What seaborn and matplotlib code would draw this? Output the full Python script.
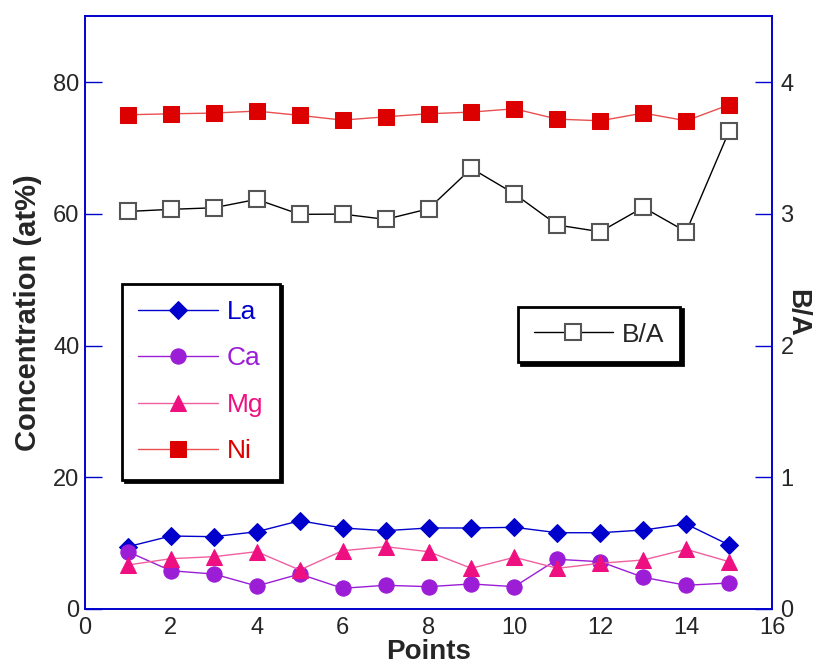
import matplotlib
matplotlib.use("Agg")
import matplotlib.pyplot as plt
import seaborn as sns
import pandas as pd
from matplotlib import font_manager

points = list(range(1, 16))
la = [9.46, 11.08, 10.98, 11.73, 13.40, 12.30, 11.89, 12.30, 12.30, 12.40, 11.58, 11.58, 11.99, 12.90, 9.72]
ca = [8.70, 5.81, 5.31, 3.49, 5.31, 3.14, 3.60, 3.39, 3.80, 3.39, 7.54, 7.18, 4.81, 3.60, 3.95]
mg = [6.68, 7.64, 7.94, 8.70, 5.92, 8.85, 9.46, 8.70, 6.18, 7.85, 6.18, 6.94, 7.44, 9.06, 7.18]
ni = [75.04, 75.19, 75.30, 75.60, 74.95, 74.23, 74.73, 75.19, 75.45, 75.95, 74.38, 74.13, 75.30, 74.13, 76.55]
ba = [3.018, 3.034, 3.046, 3.110, 2.996, 2.998, 2.958, 3.038, 3.345, 3.152, 2.915, 2.864, 3.049, 2.864, 3.628]

x_ticks = [0, 2, 4, 6, 8, 10, 12, 14, 16]
left_ticks = [0, 20, 40, 60, 80]
right_ticks = [0, 1, 2, 3, 4]

sns.set_style("white")
names = {f.name for f in font_manager.fontManager.ttflist}
fam = ["Liberation Sans Narrow", "Liberation Sans", "DejaVu Sans"]
plt.rcParams["font.family"] = [f for f in fam if f in names] + ["DejaVu Sans"]

df = pd.DataFrame({"Points": points, "La": la, "Ca": ca, "Mg": mg, "Ni": ni, "BA": ba})

fig = plt.figure(figsize=(8.17, 6.66), dpi=100)
ax = fig.add_axes([0.104, 0.0856, 0.841, 0.89])
ax2 = ax.twinx()

series = [
    ("La", "#0000CC", "#0000CC", "D", 9),
    ("Ca", "#9B1DD6", "#9B1DD6", "o", 11),
    ("Mg", "#EE1080", "#F0609F", "^", 11),
    ("Ni", "#DD0000", "#E85050", "s", 11),
]
for name, mc, lc, mk, ms in series:
    sns.lineplot(data=df, x="Points", y=name, ax=ax, color=lc, linewidth=1,
                 marker=mk, markersize=ms, markerfacecolor=mc, markeredgecolor=mc,
                 label=name)

sns.lineplot(data=df, x="Points", y="BA", ax=ax2, color="black", linewidth=1,
             marker="s", markersize=11, markerfacecolor="white",
             markeredgecolor="#555555", markeredgewidth=1.5, label="B/A")

ax.set_xlim(0, 16)
ax.set_ylim(0, 90)
ax2.set_ylim(0, 4.5)
ax.set_xticks(x_ticks)
ax.set_yticks(left_ticks)
ax2.set_yticks(right_ticks)

fs = 17
ax.tick_params(axis="both", direction="in", length=12, width=1, color="#0000CC",
               labelsize=fs, pad=4)
ax.tick_params(axis="x", pad=6)
ax2.tick_params(axis="y", direction="in", length=12, width=1, color="#0000CC",
                labelsize=fs, pad=6)
for a in (ax, ax2):
    for s in a.spines.values():
        s.set_color("#0000CC")
        s.set_linewidth(1.2)

ax.set_xlabel("Points", fontsize=20, fontweight="bold", labelpad=0)
ax.set_ylabel("Concentration (at%)", fontsize=21, fontweight="bold", labelpad=8)
ax2.set_ylabel("B/A", fontsize=20, fontweight="bold", rotation=270, labelpad=12)

leg1 = ax.legend(loc="upper left", bbox_to_anchor=(0.054, 0.549), fontsize=19,
                 frameon=True, fancybox=False, shadow={"color": "black", "alpha": 1},
                 edgecolor="black", handlelength=3.0, labelspacing=0.85,
                 borderpad=0.62, handletextpad=0.35, borderaxespad=0)
leg1.get_frame().set_linewidth(2)
for t, (name, mc, lc, mk, ms) in zip(leg1.get_texts(), series):
    t.set_color(mc)

leg2 = ax2.legend(loc="upper left", bbox_to_anchor=(0.630, 0.510), fontsize=19,
                  frameon=True, fancybox=False, shadow={"color": "black", "alpha": 1},
                  edgecolor="black", handlelength=3.0, borderpad=0.6,
                  handletextpad=0.35, borderaxespad=0)
leg2.get_frame().set_linewidth(2)

fig.savefig("out.png", dpi=100)
